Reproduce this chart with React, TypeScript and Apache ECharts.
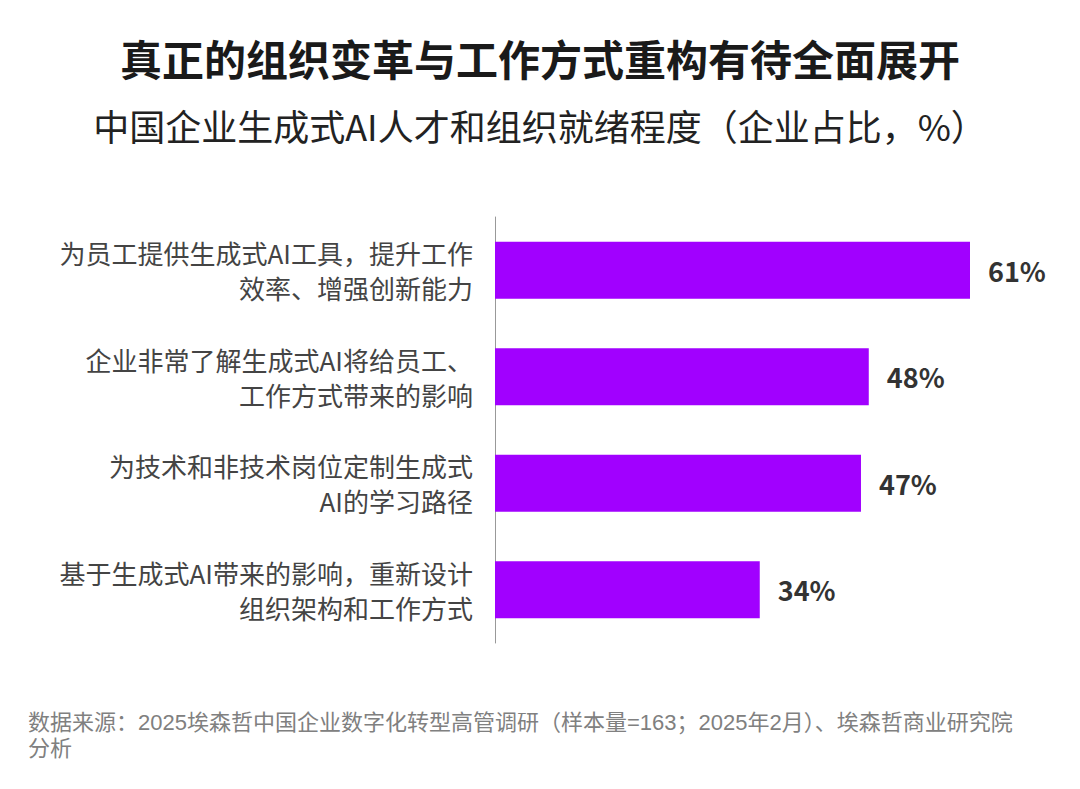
import React, { useEffect, useRef } from 'react';
import * as echarts from 'echarts';

const categories = [
  '为员工提供生成式AI工具，提升工作\n效率、增强创新能力',
  '企业非常了解生成式AI将给员工、\n工作方式带来的影响',
  '为技术和非技术岗位定制生成式\nAI的学习路径',
  '基于生成式AI带来的影响，重新设计\n组织架构和工作方式',
];
const values = [61, 48, 47, 34];
const sourceLines = [
  '数据来源：2025埃森哲中国企业数字化转型高管调研（样本量=163；2025年2月）、埃森哲商业研究院',
  '分析',
];

const FONT = '"Noto Sans CJK SC", "Noto Sans", sans-serif';
const SOURCE_FONT = '"Liberation Sans", "Noto Sans CJK SC", sans-serif';

export default function App() {
  const chartRef = useRef<HTMLDivElement>(null);

  useEffect(() => {
    document.body.style.margin = '0';
    if (!chartRef.current) return;
    const chart = echarts.init(chartRef.current, undefined, { renderer: 'svg' });

    const option: echarts.EChartsOption = {
      animation: false,
      backgroundColor: '#ffffff',
      textStyle: { fontFamily: FONT },
      title: [
        {
          text: '真正的组织变革与工作方式重构有待全面展开',
          left: 'center',
          top: 31,
          textStyle: { fontSize: 42, fontWeight: 'bold', color: '#1a1a1a', fontFamily: FONT },
        },
        {
          text: '中国企业生成式AI人才和组织就绪程度（企业占比，%）',
          left: 'center',
          top: 102,
          textStyle: { fontSize: 36, fontWeight: 'normal', color: '#222', fontFamily: FONT },
        },
      ],
      grid: { left: 495, top: 217, width: 475, height: 426 },
      xAxis: {
        type: 'value',
        min: 0,
        max: 61,
        show: false,
      },
      yAxis: {
        type: 'category',
        inverse: true,
        data: categories,
        axisLine: { show: true, lineStyle: { color: '#999', width: 1 } },
        axisTick: { show: false },
        axisLabel: {
          margin: 22,
          fontSize: 26,
          lineHeight: 35,
          color: '#444',
          align: 'right',
          fontFamily: FONT,
        },
      },
      series: [
        {
          type: 'bar',
          data: values,
          barWidth: 57,
          itemStyle: { color: '#A100FF' },
          label: {
            show: true,
            position: 'right',
            distance: 18,
            formatter: '{c}%',
            fontSize: 27,
            fontWeight: 'bold',
            color: '#333',
            fontFamily: FONT,
          },
        },
      ],
      graphic: sourceLines.map((line, i) => ({
        type: 'text',
        left: 28,
        top: 710 + i * 26,
        style: {
          text: line,
          fontSize: 22,
          lineHeight: 24,
          fill: '#808080',
          fontFamily: SOURCE_FONT,
        },
      })),
    };

    chart.setOption(option);
    return () => chart.dispose();
  }, []);

  return <div ref={chartRef} style={{ width: 1080, height: 789 }} />;
}
